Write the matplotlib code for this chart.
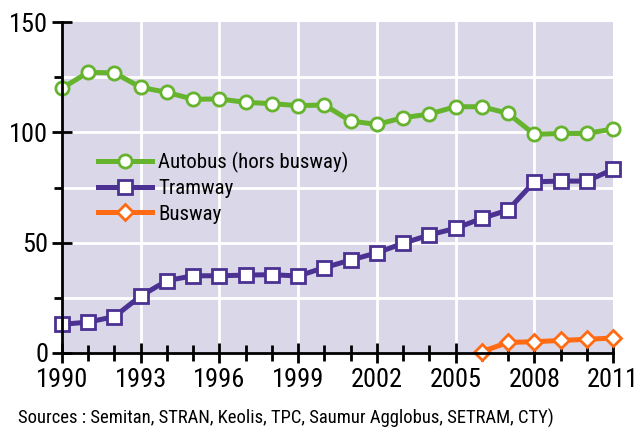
import matplotlib
matplotlib.use("Agg")
import matplotlib.pyplot as plt
from matplotlib import font_manager as fm

names = {f.name for f in fm.fontManager.ttflist}
chosen = None
for cand in ["Roboto Condensed", "Archivo Narrow", "Barlow Condensed", "Asap Condensed"]:
    if cand in names:
        chosen = cand
        break
if chosen:
    plt.rcParams["font.family"] = [chosen, "DejaVu Sans"]
else:
    plt.rcParams["font.family"] = ["DejaVu Sans"]
    plt.rcParams["font.stretch"] = "condensed"

years = list(range(1990, 2012))
autobus = [120, 127.2, 126.9, 120.4, 118.1, 115, 115.1, 113.6, 113, 112.1, 112.4,
           105.1, 103.6, 106.6, 108.3, 111.6, 111.6, 108.6, 99.1, 99.5, 99.5, 101.5]
tramway = [13.0, 14.0, 16.5, 25.8, 32.8, 35.0, 35.0, 35.3, 35.5, 34.9, 38.7,
           42.1, 45.4, 49.7, 53.5, 56.5, 61.0, 64.8, 77.6, 77.9, 77.9, 83.2]
busway_years = list(range(2006, 2012))
busway = [0.6, 4.8, 5.1, 5.7, 6.2, 6.8]
labels = ["Autobus (hors busway)", "Tramway", "Busway"]
xticks = [1990, 1993, 1996, 1999, 2002, 2005, 2008, 2011]
yticks = [0, 50, 100, 150]
yminor = [25, 75, 125]
source = "Sources : Semitan, STRAN, Keolis, TPC, Saumur Agglobus, SETRAM, CTY)"

fig = plt.figure(figsize=(6.39, 4.30), dpi=100)
ax = fig.add_axes([62/639, 1-353/430, (613-62)/639, (353-22)/430])
ax.set_facecolor("#DAD7E9")
ax.set_xlim(1990, 2011)
ax.set_ylim(0, 150)
ax.set_xticks(xticks)
ax.set_xticks(years, minor=True)
ax.set_yticks(yticks)
ax.set_yticks(yminor, minor=True)
for x in xticks[1:-1]:
    ax.axvline(x, color="white", lw=2, zorder=1)
for y in yminor + yticks[1:-1]:
    ax.axhline(y, color="white", lw=2, zorder=1)

green, purple, orange = "#66B32E", "#4A3192", "#FF6A13"
ax.plot(years, autobus, color=green, lw=3.6, marker="o", ms=9.5, mfc="white", mec=green, mew=2, clip_on=False, label=labels[0], zorder=3)
ax.plot(years, tramway, color=purple, lw=3.6, marker="s", ms=9.5, mfc="white", mec=purple, mew=2, clip_on=False, label=labels[1], zorder=3)
ax.plot(busway_years, busway, color=orange, lw=3.6, marker="D", ms=8.5, mfc="white", mec=orange, mew=2, clip_on=False, label=labels[2], zorder=4)

for s in ["top", "right"]:
    ax.spines[s].set_visible(False)
for s in ["left", "bottom"]:
    ax.spines[s].set_linewidth(2)
    ax.spines[s].set_zorder(5)

ax.tick_params(axis="y", which="major", direction="inout", length=14, width=2, labelsize=19, pad=3)
ax.tick_params(axis="y", which="minor", direction="out", length=6, width=2)
ax.tick_params(axis="x", which="major", direction="inout", length=14, width=2, labelsize=19, pad=4)
ax.tick_params(axis="x", which="minor", direction="inout", length=11, width=2)
leg = ax.legend(loc="upper left", bbox_to_anchor=(0.05, 0.632), frameon=False, fontsize=15,
                handlelength=2.6, labelspacing=0.3, handletextpad=0.3, borderaxespad=0)
fig.text(18/639, 1-418/430, source, fontsize=13.4, va="center", ha="left")
fig.savefig("out.png", dpi=100)
